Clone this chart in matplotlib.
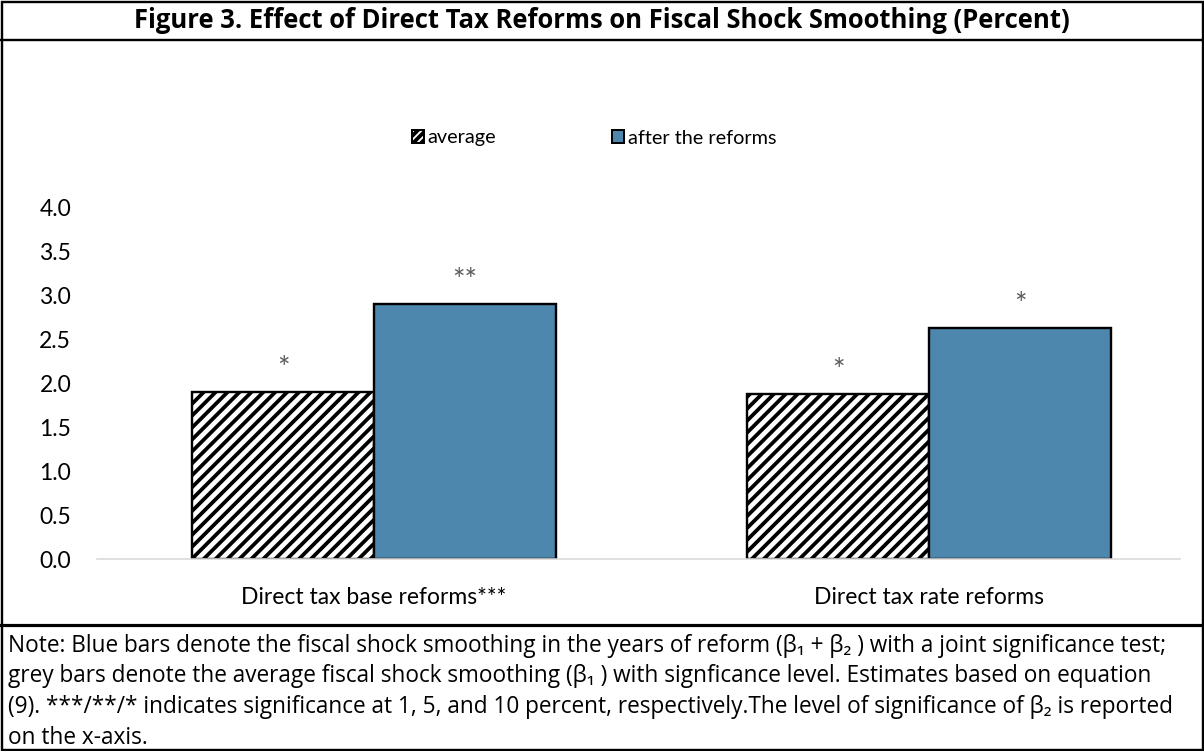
import matplotlib
matplotlib.use("Agg")
import matplotlib.pyplot as plt
from matplotlib.patches import Patch
from matplotlib.lines import Line2D
import numpy as np

categories = ["Direct tax base reforms***", "Direct tax rate reforms"]
series_names = ["average", "after the reforms"]
average = [1.90, 1.88]
after_reforms = [2.90, 2.63]
stars_average = ["*", "*"]
stars_after = ["**", "*"]
yticks = [0.0, 0.5, 1.0, 1.5, 2.0, 2.5, 3.0, 3.5, 4.0]

title = "Figure 3. Effect of Direct Tax Reforms on Fiscal Shock Smoothing (Percent)"
note_lines = [
    "Note: Blue bars denote the fiscal shock smoothing in the years of reform (\u03b2\u2081 + \u03b2\u2082 ) with a joint significance test;",
    "grey bars denote the average fiscal shock smoothing (\u03b2\u2081 ) with signficance level. Estimates based on equation",
    "(9). ***/**/* indicates significance at 1, 5, and 10 percent, respectively.The level of significance of \u03b2\u2082 is reported",
    "on the x-axis.",
]

blue = "#4d87ae"
dpi = 143
W, H = 1204, 751
plt.rcParams["hatch.linewidth"] = 1.9
plt.rcParams["font.family"] = ["Lato", "DejaVu Sans"]

fig = plt.figure(figsize=(W / dpi, H / dpi), dpi=dpi)

# axes placed in pixel terms of the reference
ax_left, ax_right, ax_top, ax_bottom = 97, 1180, 207, 559
ax = fig.add_axes([ax_left / W, 1 - ax_bottom / H,
                   (ax_right - ax_left) / W, (ax_bottom - ax_top) / H])

x = np.arange(len(categories))
width = 0.328
b1 = ax.bar(x - width / 2, average, width, facecolor="white", edgecolor="black",
            hatch="////", linewidth=1.2, label=series_names[0])
b2 = ax.bar(x + width / 2, after_reforms, width, facecolor=blue, edgecolor="black",
            linewidth=1.2, label=series_names[1])

for xi, v, s in zip(x - width / 2, average, stars_average):
    ax.annotate(s, (xi, v), xytext=(0, 11.3), textcoords="offset points",
                ha="center", va="center", fontsize=15, color="#595959")
for xi, v, s in zip(x + width / 2, after_reforms, stars_after):
    ax.annotate(s, (xi, v), xytext=(0, 11.3), textcoords="offset points",
                ha="center", va="center", fontsize=15, color="#595959")

ax.set_ylim(0, 4.0)
ax.set_xlim(-(374 - ax_left) / 555, 1 + (ax_right - 929) / 555)
ax.set_yticks(yticks)
ax.set_yticklabels([f"{t:.1f}" for t in yticks], fontsize=11.5, color="#000000")
ax.set_xticks(x)
ax.set_xticklabels(categories, fontsize=11.5)
ax.tick_params(axis="both", length=0)
ax.tick_params(axis="y", pad=13)
ax.tick_params(axis="x", pad=14)
for side in ["top", "right", "left"]:
    ax.spines[side].set_visible(False)
ax.spines["bottom"].set_color("#d9d9d9")
ax.spines["bottom"].set_linewidth(0.8)

handles = [Patch(facecolor="white", edgecolor="black", hatch="//////", linewidth=1.0),
           Patch(facecolor=blue, edgecolor="black", linewidth=1.0)]
fig.legend(handles, series_names, loc="center", bbox_to_anchor=(594 / W, 1 - 138 / H),
           ncol=2, frameon=False, fontsize=10, handlelength=0.6, handleheight=0.6,
           handletextpad=0.2, columnspacing=5.8)

# frame, title band and note band
fig.add_artist(plt.Rectangle((1.5 / W, 1.5 / H), (W - 3) / W, (H - 3) / H,
                             transform=fig.transFigure, fill=False,
                             edgecolor="black", linewidth=1.2))
fig.add_artist(Line2D([0, 1], [1 - 40 / H] * 2, transform=fig.transFigure,
                      color="black", linewidth=1.2))
fig.add_artist(Line2D([0, 1], [1 - 625 / H] * 2, transform=fig.transFigure,
                      color="black", linewidth=1.6))

fig.text(0.5, 1 - 20 / H, title, ha="center", va="center", fontsize=12.9,
         fontweight="bold", family=["Open Sans", "DejaVu Sans"])

for i, line in enumerate(note_lines):
    fig.text(8 / W, 1 - (646 + i * 30.5) / H, line, ha="left", va="center",
             fontsize=11.4, family=["Open Sans", "DejaVu Sans"])

fig.savefig("out.png", dpi=dpi)
